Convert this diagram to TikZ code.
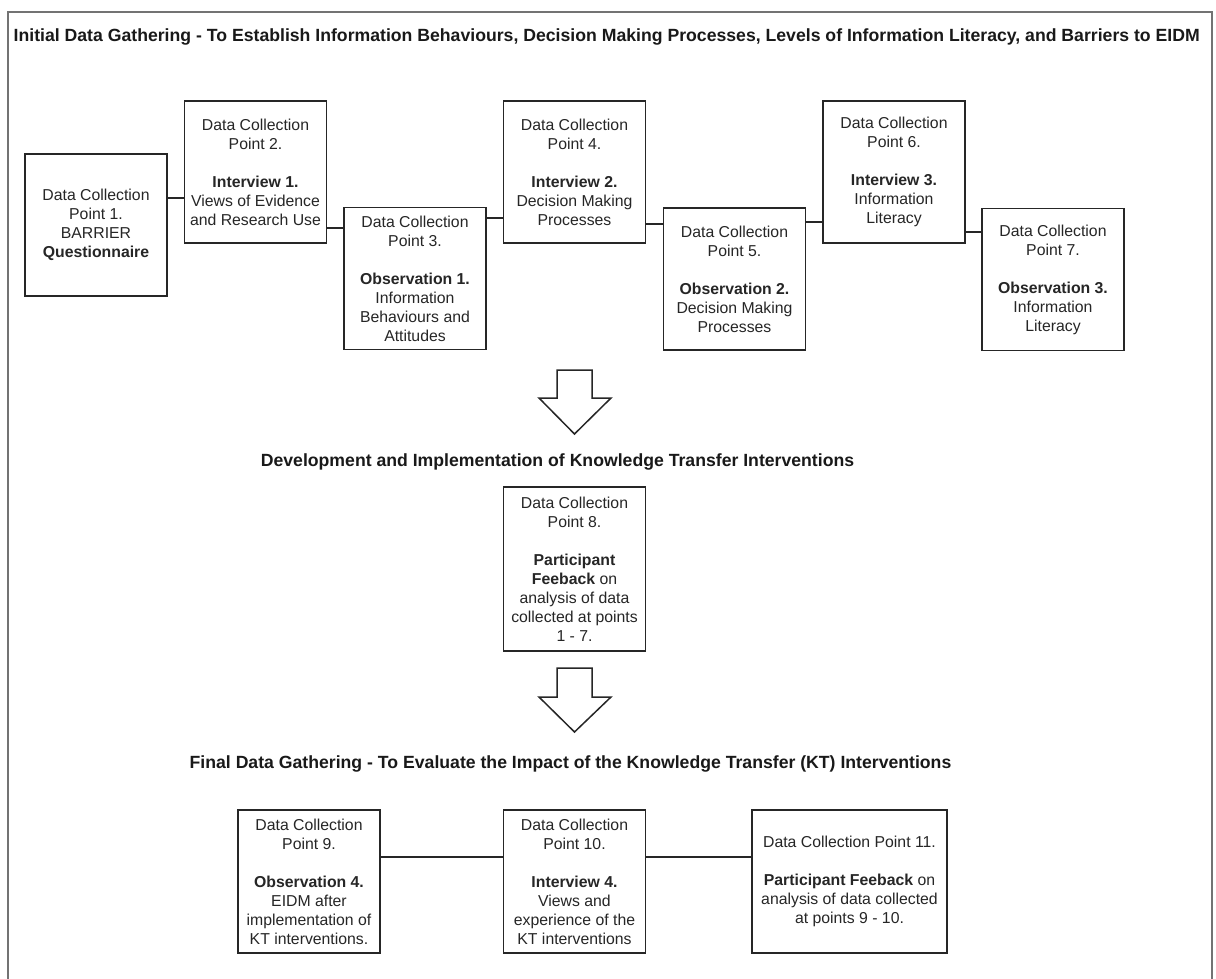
\documentclass[tikz,border=0pt]{standalone}
\usepackage{fontspec}
\setmainfont{Liberation Sans}
\begin{document}
\begin{tikzpicture}[x=1pt,y=-1pt,
  dcbox/.style={draw=black!85, line width=1.8pt, fill=white, align=center,
    inner sep=0pt, text=black!85, font=\fontsize{15.8}{19}\selectfont,
    minimum width=142pt, minimum height=142pt},
  heading/.style={font=\bfseries\fontsize{17.65}{21}\selectfont, text=black!90, inner sep=0pt},
  link/.style={line width=1.8pt, draw=black!85},
  blockarrow/.style={draw=black!85, line width=1.5pt, fill=white, line join=miter},
  frame/.style={draw=black!55, line width=1.5pt}]
\useasboundingbox (0,0) rectangle (1216,979);

% open outer frame
\draw[frame] (8,979) -- (8,12) -- (1212,12) -- (1212,979);

% headings
\node[heading, anchor=west] (t1) at (13.5,37) {Initial Data Gathering - To Establish Information Behaviours, Decision Making Processes, Levels of Information Literacy, and Barriers to EIDM};
\node[heading] (t2) at (557.5,462) {Development and Implementation of Knowledge Transfer Interventions};
\node[heading] (t3) at (570.5,764) {Final Data Gathering - To Evaluate the Impact of the Knowledge Transfer (KT) Interventions};

% initial data gathering
\node[dcbox] (b1) at (96,225) {Data Collection\\Point 1.\\BARRIER\\\textbf{Questionnaire}};
\node[dcbox] (b2) at (255.5,172) {Data Collection\\Point 2.\\[19pt]\textbf{Interview 1.}\\Views of Evidence\\and Research Use};
\node[dcbox] (b3) at (415,278.5) {Data Collection\\Point 3.\\[19pt]\textbf{Observation 1.}\\Information\\Behaviours and\\Attitudes};
\node[dcbox] (b4) at (574.5,172) {Data Collection\\Point 4.\\[19pt]\textbf{Interview 2.}\\Decision Making\\Processes};
\node[dcbox] (b5) at (734.5,279) {Data Collection\\Point 5.\\[19pt]\textbf{Observation 2.}\\Decision Making\\Processes};
\node[dcbox] (b6) at (894,172) {Data Collection\\Point 6.\\[19pt]\textbf{Interview 3.}\\Information\\Literacy};
\node[dcbox] (b7) at (1053,279.5) {Data Collection\\Point 7.\\[19pt]\textbf{Observation 3.}\\Information\\Literacy};

\draw[link] (b1.east |- 0,198) -- (b2.west |- 0,198);
\draw[link] (b2.east |- 0,228) -- (b3.west |- 0,228);
\draw[link] (b3.east |- 0,218) -- (b4.west |- 0,218);
\draw[link] (b4.east |- 0,224) -- (b5.west |- 0,224);
\draw[link] (b5.east |- 0,222) -- (b6.west |- 0,222);
\draw[link] (b6.east |- 0,232) -- (b7.west |- 0,232);

% first block arrow
\draw[blockarrow] (557,370) -- (592,370) -- (592,398) -- (611,398) -- (574.5,434)
  -- (539,398) -- (557,398) -- cycle;

% knowledge transfer feedback
\node[dcbox, minimum height=164pt] (b8) at (574.5,569) {Data Collection\\Point 8.\\[19pt]\textbf{Participant}\\\textbf{Feeback} on\\analysis of data\\collected at points\\1 - 7.};

% second block arrow
\draw[blockarrow] (557,668) -- (592,668) -- (592,697) -- (611,697) -- (574.5,732)
  -- (539,697) -- (557,697) -- cycle;

% final data gathering
\node[dcbox, minimum height=143pt] (b9) at (309,881.5) {Data Collection\\Point 9.\\[19pt]\textbf{Observation 4.}\\EIDM after\\implementation of\\KT interventions.};
\node[dcbox, minimum height=143pt] (b10) at (574.5,881.5) {Data Collection\\Point 10.\\[19pt]\textbf{Interview 4.}\\Views and\\experience of the\\KT interventions};
\node[dcbox, minimum height=143pt, minimum width=195pt] (b11) at (849.5,881.5) {Data Collection Point 11.\\[19pt]\textbf{Participant Feeback} on\\analysis of data collected\\at points 9 - 10.};

\draw[link] (b9.east |- 0,857) -- (b10.west |- 0,857);
\draw[link] (b10.east |- 0,857) -- (b11.west |- 0,857);
\end{tikzpicture}
\end{document}
